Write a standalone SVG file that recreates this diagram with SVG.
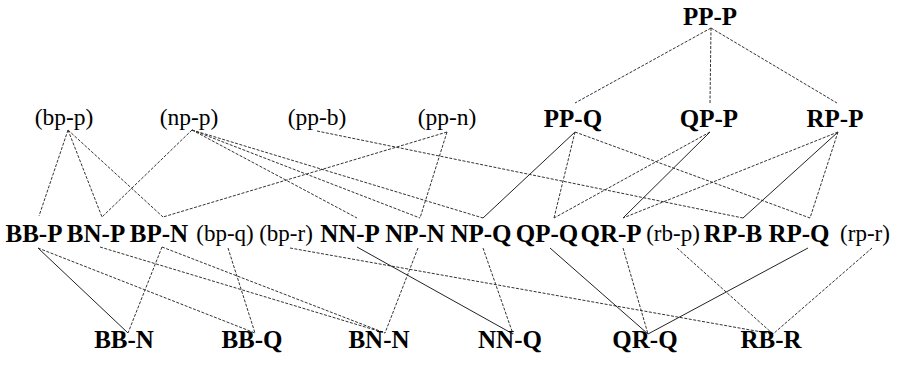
<svg xmlns="http://www.w3.org/2000/svg" width="899" height="365" viewBox="0 0 899 365">
<style>
.b{font-family:"Liberation Serif","Times New Roman",serif;font-weight:bold;font-size:25px;text-anchor:middle;fill:#000}
.p{font-family:"Liberation Serif","Times New Roman",serif;font-size:23.5px;text-anchor:middle;fill:#000}
.q{font-family:"Liberation Serif","Times New Roman",serif;font-size:23px;text-anchor:middle;fill:#000}
.s{stroke:#222;stroke-width:1;fill:none}
.d{stroke:#333;stroke-width:1;fill:none;stroke-dasharray:3 1.5}
</style>
<rect width="899" height="365" fill="#fff"/>
<g id="connectors">
<line class="d" x1="711" y1="28" x2="575" y2="103"/>
<line class="d" x1="711" y1="28" x2="710" y2="103"/>
<line class="d" x1="711" y1="28" x2="837" y2="103"/>
<line class="d" x1="68" y1="130" x2="39" y2="216"/>
<line class="d" x1="68" y1="130" x2="102" y2="217"/>
<line class="d" x1="68" y1="130" x2="163" y2="217"/>
<line class="d" x1="192" y1="130" x2="102" y2="217"/>
<line class="d" x1="192" y1="130" x2="357" y2="218"/>
<line class="d" x1="192" y1="130" x2="420" y2="218"/>
<line class="d" x1="192" y1="130" x2="483" y2="218"/>
<line class="d" x1="317" y1="131" x2="743" y2="218"/>
<line class="d" x1="447" y1="132" x2="163" y2="217"/>
<line class="d" x1="447" y1="132" x2="420" y2="218"/>
<line class="s" x1="575" y1="132" x2="483" y2="218"/>
<line class="d" x1="575" y1="132" x2="554" y2="218"/>
<line class="d" x1="575" y1="132" x2="810" y2="218"/>
<line class="d" x1="710" y1="132" x2="554" y2="218"/>
<line class="s" x1="710" y1="132" x2="623" y2="218"/>
<line class="d" x1="838" y1="132" x2="623" y2="218"/>
<line class="s" x1="838" y1="132" x2="743" y2="218"/>
<line class="d" x1="838" y1="132" x2="810" y2="218"/>
<line class="s" x1="38" y1="248" x2="128" y2="333"/>
<line class="d" x1="38" y1="248" x2="255" y2="333"/>
<line class="d" x1="100" y1="247" x2="385" y2="333"/>
<line class="d" x1="162" y1="247" x2="128" y2="333"/>
<line class="d" x1="162" y1="247" x2="385" y2="333"/>
<line class="d" x1="228" y1="248" x2="255" y2="333"/>
<line class="d" x1="290" y1="248" x2="773" y2="334"/>
<line class="s" x1="357" y1="247" x2="513" y2="334"/>
<line class="d" x1="418" y1="248" x2="385" y2="333"/>
<line class="d" x1="483" y1="248" x2="513" y2="334"/>
<line class="s" x1="550" y1="248" x2="648" y2="334"/>
<line class="d" x1="623" y1="248" x2="648" y2="334"/>
<line class="d" x1="677" y1="248" x2="773" y2="334"/>
<line class="s" x1="808" y1="248" x2="648" y2="334"/>
<line class="d" x1="872" y1="248" x2="773" y2="334"/>
</g>
<g id="PP-P"><text class="b" x="710" y="25">PP-P</text></g>
<g id="bp-p"><text class="p" x="64" y="125">(bp-p)</text></g>
<g id="np-p"><text class="p" x="189" y="125">(np-p)</text></g>
<g id="pp-b"><text class="p" x="317" y="125">(pp-b)</text></g>
<g id="pp-n"><text class="p" x="447" y="125">(pp-n)</text></g>
<g id="PP-Q"><text class="b" x="573" y="127">PP-Q</text></g>
<g id="QP-P"><text class="b" x="709" y="127">QP-P</text></g>
<g id="RP-P"><text class="b" x="835" y="127">RP-P</text></g>
<g id="BB-P"><text class="b" x="34" y="242">BB-P</text></g>
<g id="BN-P"><text class="b" x="96" y="242">BN-P</text></g>
<g id="BP-N"><text class="b" x="159" y="242">BP-N</text></g>
<g id="bp-q"><text class="q" x="225" y="241">(bp-q)</text></g>
<g id="bp-r"><text class="q" x="286" y="241">(bp-r)</text></g>
<g id="NN-P"><text class="b" x="350" y="242">NN-P</text></g>
<g id="NP-N"><text class="b" x="415" y="242">NP-N</text></g>
<g id="NP-Q"><text class="b" x="481" y="242">NP-Q</text></g>
<g id="QP-Q"><text class="b" x="547" y="242">QP-Q</text></g>
<g id="QR-P"><text class="b" x="611" y="242">QR-P</text></g>
<g id="rb-p"><text class="q" x="673" y="241">(rb-p)</text></g>
<g id="RP-B"><text class="b" x="733" y="242">RP-B</text></g>
<g id="RP-Q"><text class="b" x="799" y="242">RP-Q</text></g>
<g id="rp-r"><text class="q" x="865" y="241">(rp-r)</text></g>
<g id="BB-N"><text class="b" x="124" y="348">BB-N</text></g>
<g id="BB-Q"><text class="b" x="252" y="348">BB-Q</text></g>
<g id="BN-N"><text class="b" x="379" y="348">BN-N</text></g>
<g id="NN-Q"><text class="b" x="510" y="348">NN-Q</text></g>
<g id="QR-Q"><text class="b" x="645" y="348">QR-Q</text></g>
<g id="RB-R"><text class="b" x="771" y="348">RB-R</text></g>
</svg>
